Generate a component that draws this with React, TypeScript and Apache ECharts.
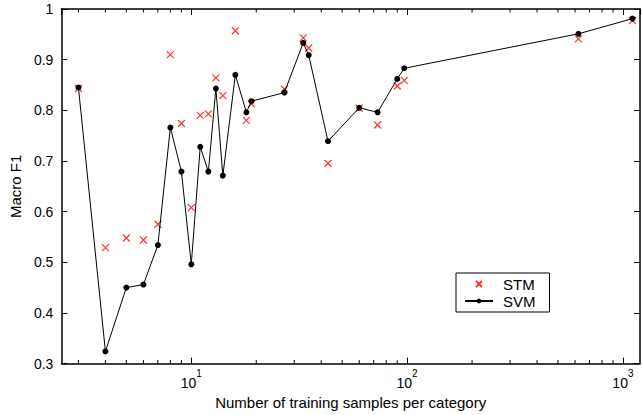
import React, { useEffect, useRef } from "react";
import * as echarts from "echarts";

const samples = [3, 4, 5, 6, 7, 8, 9, 10, 11, 12, 13, 14, 16, 18, 19, 27, 33, 35, 43, 60, 73, 90, 97, 622, 1108];
const svmF1 = [0.845, 0.324, 0.450, 0.456, 0.534, 0.766, 0.679, 0.496, 0.728, 0.679, 0.843, 0.671, 0.870, 0.796, 0.818, 0.835, 0.933, 0.909, 0.739, 0.805, 0.796, 0.862, 0.883, 0.951, 0.981];
const stmF1 = [0.843, 0.529, 0.548, 0.544, 0.575, 0.910, 0.774, 0.608, 0.790, 0.793, 0.864, 0.829, 0.957, 0.780, 0.813, 0.842, 0.943, 0.923, 0.695, 0.804, 0.771, 0.848, 0.859, 0.941, 0.977];
const minorTicks = [3, 4, 5, 6, 7, 8, 9, 20, 30, 40, 50, 60, 70, 80, 90, 200, 300, 400, 500, 600, 700, 800, 900];
const seriesNames = ["STM", "SVM"];

const X_MIN = 2.5;
const X_MAX = 1200;
const Y_MIN = 0.3;
const Y_MAX = 1;
const FONT = "'Liberation Sans', Arial, Helvetica, sans-serif";
const CROSS = "path://M0,0L10,10M10,0L0,10";
const AXIS_W = 1.5;

export default function App() {
  const ref = useRef<HTMLDivElement>(null);
  useEffect(() => {
    if (!ref.current) return;
    const chart = echarts.init(ref.current, null, { renderer: "svg" });
    const powLabel = (v: number) => {
      const e = Math.round(Math.log10(v));
      if (Math.abs(Math.pow(10, e) - v) > 1e-6 * v) return "";
      return `{b|10}{s|${e}}`;
    };
    const option: any = {
      animation: false,
      backgroundColor: "#fff",
      textStyle: { fontFamily: FONT },
      grid: { left: 60, right: 2, top: 9, bottom: 46, containLabel: false },
      legend: {
        data: seriesNames,
        orient: "vertical",
        left: 456,
        top: 273,
        padding: [3, 14, 3, 8],
        itemGap: 1,
        itemWidth: 28,
        itemHeight: 6,
        borderColor: "#000",
        borderWidth: 1,
        backgroundColor: "#fff",
        textStyle: { fontSize: 15, color: "#000", fontFamily: FONT, lineHeight: 16, padding: [0, 0, 0, 5] },
      },
      xAxis: [
        {
          type: "log",
          logBase: 10,
          min: X_MIN,
          max: X_MAX,
          position: "bottom",
          name: "Number of training samples per category",
          nameLocation: "middle",
          nameGap: 27,
          nameTextStyle: { fontSize: 15, color: "#000", fontFamily: FONT },
          axisLine: { show: true, lineStyle: { color: "#000", width: AXIS_W } },
          axisTick: { show: true, inside: true, length: 6, lineStyle: { color: "#000" } },
          axisLabel: {
            margin: 5,
            color: "#000",
            formatter: powLabel,
            showMinLabel: false,
            showMaxLabel: false,
            rich: {
              b: { fontSize: 14, lineHeight: 29, fontFamily: FONT, color: "#000" },
              s: { fontSize: 10, lineHeight: 10, verticalAlign: "top", fontFamily: FONT, color: "#000" },
            },
          },
          splitLine: { show: false },
        },
        {
          type: "log",
          logBase: 10,
          min: X_MIN,
          max: X_MAX,
          position: "top",
          axisLine: { show: true, lineStyle: { color: "#000", width: AXIS_W } },
          axisTick: { show: true, inside: true, length: 6, lineStyle: { color: "#000" } },
          axisLabel: { show: false },
          splitLine: { show: false },
        },
      ],
      yAxis: [
        {
          type: "value",
          min: Y_MIN,
          max: Y_MAX,
          interval: 0.1,
          position: "left",
          name: "Macro F1",
          nameLocation: "middle",
          nameGap: 38,
          nameTextStyle: { fontSize: 15, color: "#000", fontFamily: FONT },
          axisLine: { show: true, lineStyle: { color: "#000", width: AXIS_W } },
          axisTick: { show: true, inside: true, length: 6, lineStyle: { color: "#000" } },
          axisLabel: { margin: 8, fontSize: 14, color: "#000", fontFamily: FONT },
          splitLine: { show: false },
        },
        {
          type: "value",
          min: Y_MIN,
          max: Y_MAX,
          interval: 0.1,
          position: "right",
          axisLine: { show: true, lineStyle: { color: "#000", width: AXIS_W } },
          axisTick: { show: true, inside: true, length: 6, lineStyle: { color: "#000" } },
          axisLabel: { show: false },
          splitLine: { show: false },
        },
      ],
      series: [
        {
          name: "STM",
          type: "scatter",
          xAxisIndex: 0,
          yAxisIndex: 0,
          symbol: CROSS,
          symbolSize: 7,
          itemStyle: { color: "#ff0000", borderColor: "#ff0000", borderWidth: 1.2 },
          data: samples.map((x, i) => [x, stmF1[i]]),
          z: 2,
        },
        {
          name: "SVM",
          type: "line",
          xAxisIndex: 0,
          yAxisIndex: 0,
          symbol: "circle",
          symbolSize: 6,
          showAllSymbol: true,
          lineStyle: { color: "#000", width: 1 },
          itemStyle: { color: "#000" },
          data: samples.map((x, i) => [x, svmF1[i]]),
          z: 3,
        },
        {
          name: "minorTicks",
          type: "custom",
          xAxisIndex: 0,
          yAxisIndex: 0,
          silent: true,
          clip: false,
          z: 4,
          data: minorTicks.map((v) => [v, Y_MIN]),
          renderItem: (params: any, api: any) => {
            const v = api.value(0);
            const pb = api.coord([v, Y_MIN]);
            const pt = api.coord([v, Y_MAX]);
            return {
              type: "group",
              children: [
                { type: "line", shape: { x1: pb[0], y1: pb[1], x2: pb[0], y2: pb[1] - 3.5 }, style: { stroke: "#000", lineWidth: 1 } },
                { type: "line", shape: { x1: pt[0], y1: pt[1], x2: pt[0], y2: pt[1] + 3.5 }, style: { stroke: "#000", lineWidth: 1 } },
              ],
            };
          },
        },
      ],
    };
    chart.setOption(option);
    return () => chart.dispose();
  }, []);
  return <div ref={ref} style={{ position: "fixed", left: 0, top: 0, width: 642, height: 415, background: "#fff" }} />;
}
